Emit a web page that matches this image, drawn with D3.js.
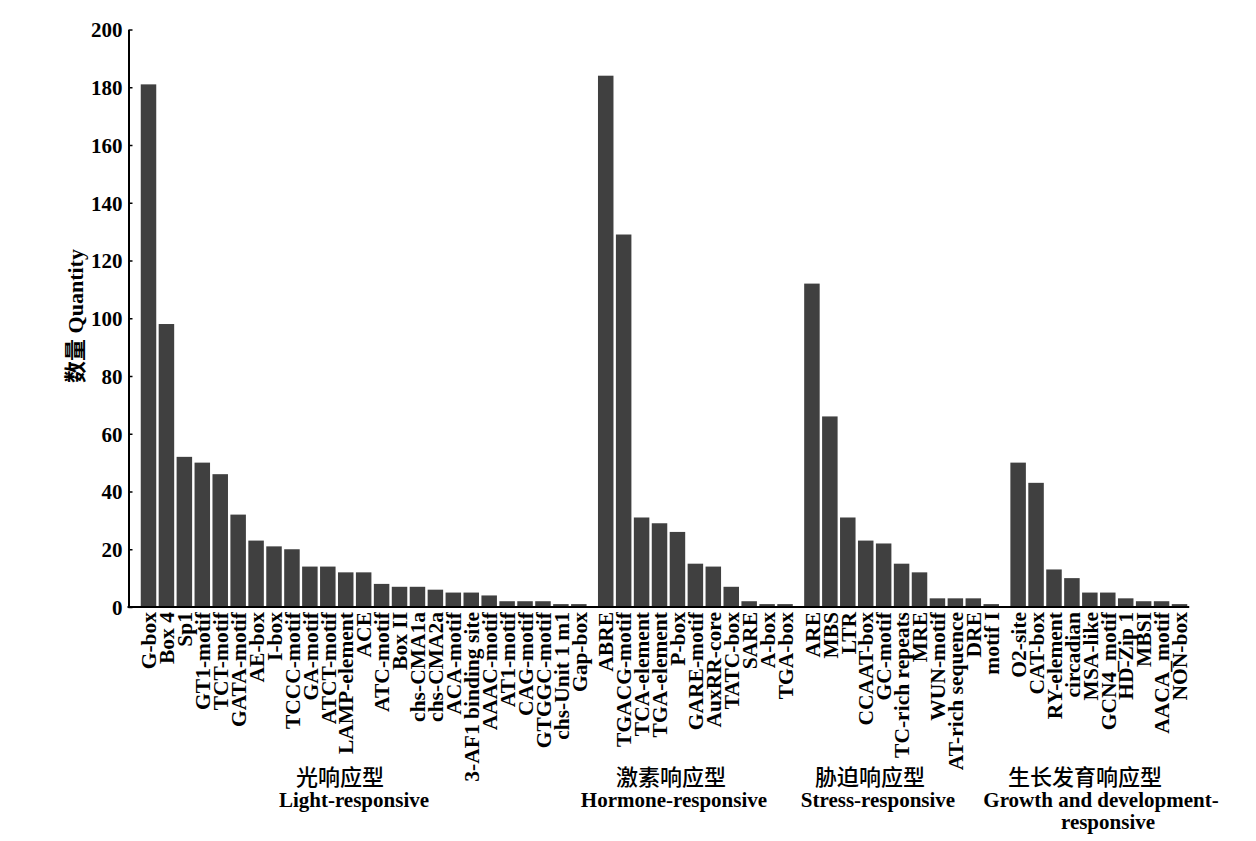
<!DOCTYPE html>
<html>
<head>
<meta charset="utf-8">
<script src="https://cdn.jsdelivr.net/npm/d3@7/dist/d3.min.js"></script>
<style>
  body { margin: 0; background: #fff; }
  text { font-family: "Liberation Serif", "Times New Roman", serif; font-weight: bold; fill: #000; }
  .cjk { font-family: "Noto Sans CJK SC", sans-serif; font-weight: bold; }
</style>
</head>
<body>
<div id="chart"></div>
<script>
// element names and counts, one array per response group
const lightNames = ["G-box", "Box 4", "Sp1", "GT1-motif", "TCT-motif", "GATA-motif", "AE-box", "I-box",
  "TCCC-motif", "GA-motif", "ATCT-motif", "LAMP-element", "ACE", "ATC-motif", "Box II", "chs-CMA1a",
  "chs-CMA2a", "ACA-motif", "3-AF1 binding site", "AAAC-motif", "AT1-motif", "CAG-motif", "GTGGC-motif",
  "chs-Unit 1 m1", "Gap-box"];
const lightValues = [181, 98, 52, 50, 46, 32, 23, 21, 20, 14, 14, 12, 12, 8, 7, 7, 6, 5, 5, 4, 2, 2, 2, 1, 1];

const hormoneNames = ["ABRE", "TGACG-motif", "TCA-element", "TGA-element", "P-box", "GARE-motif",
  "AuxRR-core", "TATC-box", "SARE", "A-box", "TGA-box"];
const hormoneValues = [184, 129, 31, 29, 26, 15, 14, 7, 2, 1, 1];

const stressNames = ["ARE", "MBS", "LTR", "CCAAT-box", "GC-motif", "TC-rich repeats", "MRE", "WUN-motif",
  "AT-rich sequence", "DRE", "motif I"];
const stressValues = [112, 66, 31, 23, 22, 15, 12, 3, 3, 3, 1];

const growthNames = ["O2-site", "CAT-box", "RY-element", "circadian", "MSA-like", "GCN4_motif", "HD-Zip 1",
  "MBSI", "AACA_motif", "NON-box"];
const growthValues = [50, 43, 13, 10, 5, 5, 3, 2, 2, 1];

const groupCN = ["光响应型", "激素响应型", "胁迫响应型", "生长发育响应型"];
const groupEN = [["Light-responsive"], ["Hormone-responsive"], ["Stress-responsive"],
  ["Growth and development-", "responsive"]];
const yTicks = [0, 20, 40, 60, 80, 100, 120, 140, 160, 180, 200];

const W = 1256, H = 841;
const svg = d3.select("#chart").append("svg")
  .attr("width", W)
  .attr("height", H);

// flatten groups into slots, half a slot of space between groups
const groups = [
  [lightNames, lightValues],
  [hormoneNames, hormoneValues],
  [stressNames, stressValues],
  [growthNames, growthValues]
];
let data = [], slot = 0;
groups.forEach(function (g, gi) {
  if (gi > 0) slot += 0.5;
  g[0].forEach(function (name, i) {
    data.push({ name: name, value: g[1][i], slot: slot, group: gi });
    slot += 1;
  });
});
const lastSlot = slot - 1;

const x = d3.scaleLinear().domain([0, lastSlot]).range([148.5, 1179.5]);
const y = d3.scaleLinear().domain([0, 200]).range([607, 29.5]);
const barW = 15.5;
const axisX = 128.5;

// bars
svg.append("g")
  .selectAll("rect")
  .data(data)
  .join("rect")
  .attr("x", d => x(d.slot) - barW / 2)
  .attr("y", d => y(d.value))
  .attr("width", barW)
  .attr("height", d => y(0) - y(d.value))
  .attr("fill", "#404040");

// y axis, ticks pointing inward
const yAxis = svg.append("g")
  .attr("transform", "translate(" + axisX + ",0)")
  .call(d3.axisRight(y).tickValues(yTicks).tickSize(4).tickSizeOuter(0));
yAxis.select(".domain").attr("stroke", "#000").attr("stroke-width", 2);
yAxis.selectAll(".tick line").attr("stroke", "#000").attr("stroke-width", 1.5);
yAxis.selectAll(".tick text")
  .attr("x", -6)
  .attr("dy", "0.35em")
  .attr("text-anchor", "end")
  .style("font-size", "21px");

// x axis line
svg.append("line")
  .attr("x1", axisX - 1)
  .attr("x2", x(lastSlot) + barW / 2 + 2)
  .attr("y1", y(0))
  .attr("y2", y(0))
  .attr("stroke", "#000")
  .attr("stroke-width", 2);

// rotated category labels
svg.append("g")
  .selectAll("text")
  .data(data)
  .join("text")
  .attr("transform", d => "translate(" + x(d.slot) + "," + (y(0) + 5) + ") rotate(-90)")
  .attr("text-anchor", "end")
  .attr("dy", "0.36em")
  .style("font-size", "21.5px")
  .text(d => d.name);

// y label
const yl = svg.append("text")
  .attr("transform", "translate(83,316) rotate(-90)")
  .attr("text-anchor", "middle")
  .style("font-size", "22px");
yl.append("tspan").attr("class", "cjk").text("数量");
yl.append("tspan").text(" Quantity");

// group labels under the axis
const cnX = [340, 671, 870, 1085];
const enX = [[354], [674], [878], [1101, 1108]];
groupCN.forEach(function (t, i) {
  svg.append("text")
    .attr("class", "cjk")
    .attr("x", cnX[i])
    .attr("y", 785)
    .attr("text-anchor", "middle")
    .style("font-size", "22px")
    .style("font-weight", "500")
    .text(t);
  groupEN[i].forEach(function (line, j) {
    svg.append("text")
      .attr("x", enX[i][j])
      .attr("y", 807 + j * 22)
      .attr("text-anchor", "middle")
      .style("font-size", "21px")
      .text(line);
  });
});
</script>
</body>
</html>
